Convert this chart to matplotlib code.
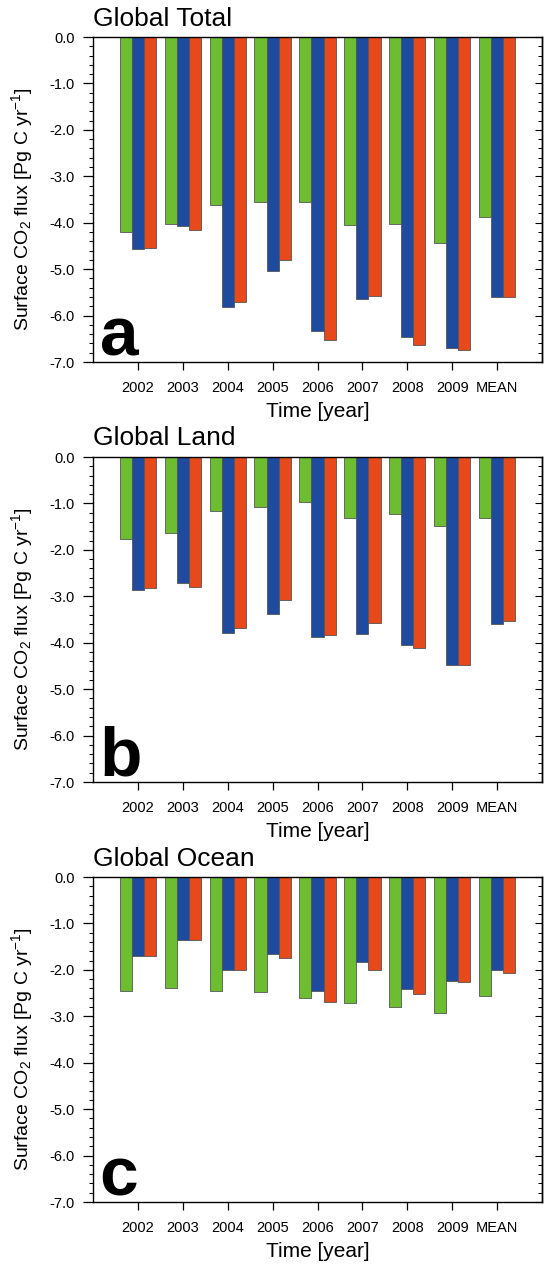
import numpy as np
import matplotlib
matplotlib.use("Agg")
import matplotlib.pyplot as plt

plt.rcParams['font.family'] = ['Liberation Sans', 'DejaVu Sans']
plt.rcParams['mathtext.fontset'] = 'custom'
plt.rcParams['mathtext.rm'] = 'Liberation Sans'
plt.rcParams['mathtext.it'] = 'Liberation Sans:italic'
plt.rcParams['mathtext.bf'] = 'Liberation Sans:bold'
plt.rcParams['axes.unicode_minus'] = False

years = ['2002', '2003', '2004', '2005', '2006', '2007', '2008', '2009', 'MEAN']

# Global Total
total_g = [-4.20, -4.03, -3.61, -3.56, -3.56, -4.05, -4.03, -4.43, -3.87]
total_b = [-4.56, -4.08, -5.81, -5.05, -6.33, -5.65, -6.47, -6.70, -5.60]
total_r = [-4.54, -4.15, -5.71, -4.81, -6.53, -5.58, -6.64, -6.75, -5.60]
# Global Land
land_g = [-1.76, -1.64, -1.16, -1.08, -0.97, -1.31, -1.22, -1.48, -1.31]
land_b = [-2.86, -2.72, -3.79, -3.39, -3.87, -3.82, -4.05, -4.49, -3.60]
land_r = [-2.83, -2.81, -3.68, -3.07, -3.84, -3.57, -4.12, -4.49, -3.53]
# Global Ocean
ocean_g = [-2.46, -2.38, -2.46, -2.47, -2.60, -2.71, -2.80, -2.93, -2.56]
ocean_b = [-1.70, -1.35, -2.01, -1.66, -2.45, -1.82, -2.41, -2.23, -2.00]
ocean_r = [-1.70, -1.35, -2.01, -1.74, -2.69, -2.01, -2.52, -2.27, -2.06]

titles = ['Global Total', 'Global Land', 'Global Ocean']
letters = ['a', 'b', 'c']
panels = [(total_g, total_b, total_r),
          (land_g, land_b, land_r),
          (ocean_g, ocean_b, ocean_r)]

colors = ['#6cbd30', '#1e4b9e', '#e8491b']
yticks = [0.0, -1.0, -2.0, -3.0, -4.0, -5.0, -6.0, -7.0]

W, H = 544, 1265
fig = plt.figure(figsize=(W / 100, H / 100), dpi=100)

x = np.arange(1, len(years) + 1)
bw = 0.27

for i in range(3):
    top = 37 + 420 * i
    bot = 362 + 420 * i
    ax = fig.add_axes([93 / W, 1 - bot / H, (542 - 93) / W, (bot - top) / H])
    for k in range(3):
        ax.bar(x + (k - 1) * bw, panels[i][k], width=bw, color=colors[k],
               edgecolor='#555555', linewidth=0.6, align='center')
    ax.set_xlim(0, 10)
    ax.set_ylim(-7, 0)
    ax.set_xticks(x)
    ax.set_xticklabels(years, fontsize=10.5)
    ax.set_yticks(yticks)
    ax.set_yticklabels(['%.1f' % v for v in yticks], fontsize=10.5)
    ax.set_yticks(np.arange(-7, 0.01, 0.2), minor=True)
    ax.tick_params(axis='x', which='major', direction='out', length=6,
                   width=0.9, pad=8, top=False)
    ax.tick_params(axis='x', which='minor', bottom=False, top=False)
    ax.tick_params(axis='y', which='major', direction='out', length=7,
                   width=0.9, pad=6)
    ax.tick_params(axis='y', which='minor', direction='out', length=3,
                   width=0.7)
    sec = ax.secondary_yaxis('right')
    sec.set_yticks(yticks)
    sec.set_yticks(np.arange(-7, 0.01, 0.2), minor=True)
    sec.tick_params(axis='y', which='major', direction='in', length=5,
                    width=0.8, labelright=False)
    sec.tick_params(axis='y', which='minor', direction='in', length=3,
                    width=0.7)
    sec.spines['right'].set_linewidth(1.0)
    for s in ax.spines.values():
        s.set_linewidth(1.0)
    ax.set_ylabel('Surface CO$_2$ flux [Pg C yr$^{-1}$]', fontsize=14)
    ax.yaxis.set_label_coords(-0.13, 0.47)
    ax.set_xlabel('Time [year]', fontsize=15, labelpad=5)
    ax.text(0.0, 1.02, titles[i], transform=ax.transAxes, fontsize=19,
            ha='left', va='bottom')
    ax.text(0.015, 0.02, letters[i], transform=ax.transAxes, fontsize=50,
            fontweight='bold', ha='left', va='baseline')

plt.savefig('out.png', dpi=100)
